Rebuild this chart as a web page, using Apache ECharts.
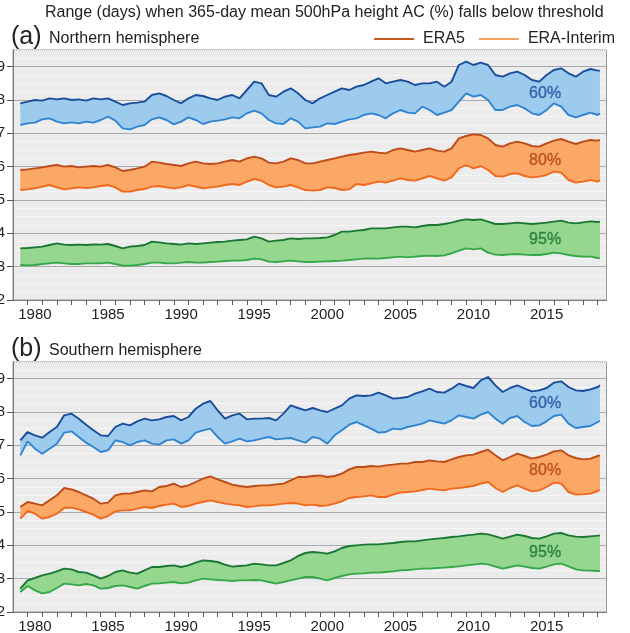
<!DOCTYPE html>
<html><head><meta charset="utf-8">
<script src="https://cdn.jsdelivr.net/npm/echarts@6/dist/echarts.min.js"></script>
<style>html,body{margin:0;padding:0;background:#fff}#c{width:630px;height:633px}</style>
</head><body><div id="c"></div><script>
// ---- time axis of the series (half-year steps, last point late 2018) ----
const years = [];
for (let y = 1979; y <= 2018.5; y += 0.5) years.push(y);
years.push(2018.65);

const yearLabels = [1980, 1985, 1990, 1995, 2000, 2005, 2010, 2015];
const yearTicks = [];
for (let y = 1979.5; y <= 2018.5; y += 1) yearTicks.push(y);
const yLabels = [2, 3, 4, 5, 6, 7, 8, 9];

// ---- Northern hemisphere ----
const nh60_era5 = [
  7.90,7.95,8.00,7.98,8.05,8.02,8.05,8.00,8.02,7.98,8.05,8.02,8.05,7.95,7.85,7.90,7.92,7.95,8.15,8.20,
  8.12,8.00,7.90,8.05,8.15,8.12,8.05,8.00,8.10,8.15,8.05,8.30,8.55,8.50,8.15,8.10,8.25,8.35,8.20,8.00,
  7.90,8.05,8.15,8.25,8.35,8.30,8.40,8.45,8.55,8.65,8.50,8.55,8.60,8.55,8.45,8.50,8.50,8.55,8.40,8.55,
  9.05,9.15,9.05,9.12,9.05,8.75,8.70,8.80,8.85,8.75,8.60,8.55,8.75,8.90,8.95,8.80,8.70,8.85,8.93,8.88,
  8.88];
const nh60_erai = [
  7.25,7.30,7.32,7.42,7.45,7.35,7.30,7.33,7.30,7.35,7.32,7.40,7.50,7.38,7.15,7.12,7.20,7.25,7.42,7.48,
  7.40,7.27,7.35,7.48,7.40,7.28,7.35,7.38,7.42,7.48,7.45,7.60,7.68,7.60,7.40,7.30,7.28,7.45,7.35,7.15,
  7.18,7.20,7.30,7.28,7.35,7.42,7.45,7.55,7.60,7.55,7.45,7.60,7.70,7.62,7.60,7.80,7.70,7.55,7.62,7.70,
  7.95,8.20,8.10,8.15,8.00,7.70,7.70,7.80,7.85,7.75,7.60,7.55,7.70,7.90,7.80,7.55,7.48,7.55,7.62,7.55,
  7.60];
const nh80_era5 = [
  5.90,5.92,5.95,5.98,6.02,6.05,6.00,6.02,5.98,6.00,6.02,6.00,6.05,5.98,5.87,5.90,5.95,6.00,6.15,6.12,
  6.08,6.05,6.02,6.10,6.15,6.10,6.08,6.10,6.15,6.20,6.15,6.25,6.30,6.25,6.12,6.10,6.15,6.25,6.20,6.10,
  6.10,6.15,6.20,6.25,6.30,6.35,6.38,6.42,6.45,6.42,6.40,6.50,6.55,6.50,6.45,6.50,6.55,6.48,6.45,6.55,
  6.85,6.92,6.97,6.95,6.85,6.65,6.60,6.70,6.75,6.70,6.62,6.60,6.70,6.78,6.83,6.75,6.68,6.75,6.80,6.78,
  6.80];
const nh80_erai = [
  5.30,5.32,5.35,5.40,5.45,5.38,5.32,5.35,5.38,5.36,5.38,5.42,5.45,5.38,5.25,5.25,5.30,5.33,5.40,5.42,
  5.38,5.35,5.38,5.45,5.40,5.35,5.38,5.40,5.45,5.48,5.45,5.55,5.63,5.58,5.45,5.38,5.40,5.45,5.38,5.30,
  5.28,5.30,5.38,5.36,5.30,5.32,5.48,5.45,5.50,5.55,5.52,5.58,5.65,5.60,5.58,5.65,5.72,5.65,5.58,5.68,
  5.95,6.05,5.95,6.02,5.90,5.72,5.70,5.78,5.80,5.72,5.68,5.70,5.75,5.85,5.82,5.60,5.52,5.55,5.60,5.55,
  5.60];
const nh95_era5 = [
  3.55,3.56,3.58,3.60,3.65,3.70,3.66,3.65,3.66,3.65,3.67,3.66,3.68,3.62,3.55,3.60,3.62,3.65,3.75,3.73,
  3.70,3.68,3.66,3.70,3.68,3.70,3.72,3.74,3.75,3.78,3.80,3.82,3.90,3.85,3.75,3.78,3.80,3.85,3.83,3.85,
  3.85,3.86,3.88,3.95,4.05,4.05,4.08,4.10,4.15,4.15,4.15,4.18,4.20,4.20,4.18,4.22,4.25,4.25,4.28,4.32,
  4.38,4.42,4.40,4.42,4.35,4.28,4.28,4.30,4.32,4.30,4.28,4.30,4.32,4.35,4.38,4.32,4.30,4.33,4.36,4.34,
  4.35];
const nh95_erai = [
  3.05,3.04,3.05,3.08,3.10,3.12,3.10,3.08,3.08,3.10,3.10,3.10,3.12,3.08,3.03,3.03,3.05,3.08,3.12,3.12,
  3.10,3.10,3.12,3.14,3.12,3.12,3.14,3.15,3.17,3.18,3.18,3.20,3.24,3.22,3.15,3.14,3.16,3.18,3.16,3.14,
  3.14,3.15,3.16,3.17,3.18,3.20,3.22,3.24,3.25,3.24,3.26,3.28,3.30,3.28,3.30,3.32,3.33,3.32,3.34,3.40,
  3.48,3.55,3.52,3.55,3.42,3.36,3.35,3.37,3.38,3.36,3.35,3.35,3.38,3.42,3.40,3.35,3.32,3.30,3.30,3.26,
  3.25];

// ---- Southern hemisphere ----
const sh60_era5 = [
  7.15,7.40,7.30,7.23,7.40,7.55,7.90,7.95,7.80,7.62,7.45,7.30,7.28,7.55,7.65,7.60,7.72,7.80,7.75,7.78,
  7.85,7.88,7.75,7.85,8.10,8.25,8.33,8.05,7.80,7.90,7.95,7.78,7.80,7.80,7.82,7.75,7.95,8.20,8.12,8.05,
  8.12,8.05,8.00,8.10,8.20,8.40,8.50,8.48,8.50,8.58,8.50,8.40,8.42,8.45,8.55,8.62,8.70,8.60,8.58,8.70,
  8.85,8.78,8.72,8.95,9.05,8.80,8.60,8.72,8.80,8.70,8.62,8.65,8.72,8.88,8.92,8.75,8.65,8.63,8.68,8.75,
  8.80];
const sh60_erai = [
  6.70,7.12,6.90,6.75,6.90,7.05,7.38,7.42,7.25,7.08,6.95,6.80,6.85,7.15,7.10,7.00,7.10,7.15,7.05,7.02,
  7.15,7.18,7.05,7.15,7.38,7.45,7.50,7.25,7.05,7.12,7.20,7.12,7.15,7.20,7.25,7.18,7.20,7.22,7.15,7.08,
  7.25,7.20,7.05,7.30,7.45,7.62,7.70,7.60,7.50,7.38,7.40,7.50,7.48,7.55,7.60,7.65,7.75,7.70,7.65,7.75,
  7.90,7.85,7.80,7.92,8.00,7.80,7.65,7.82,7.88,7.70,7.58,7.60,7.72,7.88,7.92,7.65,7.52,7.55,7.58,7.70,
  7.73];
const sh80_era5 = [
  5.15,5.30,5.25,5.20,5.35,5.50,5.72,5.68,5.60,5.50,5.40,5.25,5.28,5.50,5.55,5.55,5.60,5.65,5.62,5.75,
  5.78,5.85,5.75,5.80,5.90,6.00,6.07,5.98,5.90,5.82,5.78,5.75,5.78,5.80,5.80,5.83,5.85,5.95,6.05,6.05,
  6.08,6.10,6.05,6.08,6.15,6.28,6.35,6.35,6.38,6.36,6.40,6.42,6.45,6.45,6.50,6.50,6.55,6.52,6.50,6.58,
  6.65,6.70,6.72,6.80,6.87,6.70,6.55,6.65,6.75,6.68,6.60,6.65,6.72,6.82,6.85,6.70,6.62,6.58,6.60,6.68,
  6.70];
const sh80_erai = [
  4.80,5.03,4.95,4.80,4.85,4.95,5.12,5.13,5.08,5.00,4.92,4.80,4.88,5.02,5.05,5.05,5.10,5.15,5.12,5.18,
  5.22,5.25,5.15,5.18,5.25,5.30,5.35,5.30,5.25,5.22,5.20,5.15,5.17,5.20,5.20,5.22,5.25,5.27,5.25,5.20,
  5.22,5.18,5.20,5.25,5.32,5.42,5.45,5.47,5.50,5.45,5.45,5.52,5.58,5.60,5.62,5.66,5.70,5.67,5.65,5.70,
  5.72,5.75,5.78,5.85,5.90,5.72,5.60,5.72,5.80,5.70,5.62,5.65,5.75,5.88,5.85,5.60,5.52,5.53,5.55,5.63,
  5.67];
const sh95_era5 = [
  2.70,2.95,3.02,3.10,3.15,3.22,3.30,3.28,3.20,3.18,3.10,3.00,3.08,3.20,3.25,3.18,3.15,3.25,3.35,3.35,
  3.38,3.40,3.35,3.40,3.48,3.55,3.53,3.50,3.42,3.36,3.38,3.40,3.45,3.43,3.40,3.40,3.47,3.55,3.68,3.77,
  3.80,3.78,3.75,3.82,3.92,3.98,4.00,4.02,4.03,4.03,4.05,4.07,4.10,4.12,4.12,4.15,4.18,4.20,4.22,4.25,
  4.27,4.30,4.32,4.35,4.33,4.27,4.20,4.26,4.32,4.28,4.22,4.20,4.27,4.35,4.37,4.30,4.26,4.25,4.27,4.29,
  4.30];
const sh95_erai = [
  2.60,2.78,2.65,2.56,2.60,2.72,2.85,2.83,2.80,2.84,2.80,2.70,2.72,2.78,2.80,2.75,2.70,2.78,2.85,2.86,
  2.88,2.90,2.86,2.88,2.95,3.00,2.98,2.96,2.95,2.93,2.95,2.95,2.96,2.95,2.90,2.85,2.90,2.95,3.00,3.05,
  3.05,3.00,2.95,3.02,3.08,3.13,3.15,3.16,3.18,3.18,3.20,3.22,3.25,3.26,3.28,3.30,3.30,3.32,3.33,3.35,
  3.37,3.40,3.42,3.45,3.43,3.36,3.30,3.35,3.40,3.36,3.32,3.30,3.36,3.43,3.45,3.37,3.28,3.25,3.24,3.23,
  3.23];

const thresholds = ['60%', '80%', '95%'];
const panelTitles = ['Northern hemisphere', 'Southern hemisphere'];
const panelTags = ['(a)', '(b)'];
const legendNames = ['ERA5', 'ERA-Interim'];

// ---- styling ----
const FONT = '"Liberation Sans", Arial, Helvetica, sans-serif';
const palette = {
  '60%': { up: '#1a4c9c', lo: '#2f84d2', fill: '#9dcbee', text: '#1f52a0' },
  '80%': { up: '#bd4a19', lo: '#f2681b', fill: '#fba766', text: '#b04418' },
  '95%': { up: '#1a7633', lo: '#34a848', fill: '#95d78e', text: '#187532' }
};
const legendColors = ['#c25a22', '#f4a262'];

const panels = [
  { top: 50, sets: [[nh60_era5, nh60_erai], [nh80_era5, nh80_erai], [nh95_era5, nh95_erai]],
    labelY: [8.18, 6.17, 3.82] },
  { top: 362, sets: [[sh60_era5, sh60_erai], [sh80_era5, sh80_erai], [sh95_era5, sh95_erai]],
    labelY: [8.25, 6.24, 3.79] }
];

const grids = [], xAxes = [], yAxes = [], series = [];
panels.forEach(function (p, gi) {
  grids.push({ left: 13, top: p.top, width: 593.5, height: 250, show: true,
    backgroundColor: '#ececec', borderColor: '#9a9a9a', borderWidth: 1,
    containLabel: false, outerBoundsMode: 'none' });
  xAxes.push({ type: 'value', gridIndex: gi, min: 1978.5, max: 2019.1,
    axisLine: { show: true, onZero: false, lineStyle: { color: '#7a7a7a' } },
    axisTick: { show: true, customValues: yearTicks, length: 5, lineStyle: { color: '#555' } },
    axisLabel: { customValues: yearLabels, fontSize: 15, color: '#222', margin: 7, fontFamily: FONT,
      formatter: function (v) { return String(v); } },
    splitLine: { show: false } });
  // minor dotted grid (quarter-day)
  yAxes.push({ type: 'value', gridIndex: gi, min: 2, max: 9.5, interval: 0.25,
    axisLine: { show: false }, axisTick: { show: false }, axisLabel: { show: false },
    splitLine: { show: true, lineStyle: { color: '#ffffff', type: 'dotted', width: 1 } } });
  // major axis
  yAxes.push({ type: 'value', gridIndex: gi, position: 'left', min: 2, max: 9.5, interval: 1,
    axisLine: { show: true, onZero: false, lineStyle: { color: '#7a7a7a' } },
    axisTick: { show: true, customValues: yLabels, length: 6, lineStyle: { color: '#555' } },
    axisLabel: { customValues: yLabels, fontSize: 15, color: '#222', margin: 8, fontFamily: FONT,
      formatter: function (v) { return String(v); } },
    splitLine: { show: true, lineStyle: { color: '#a9a9a9', width: 1 } } });

  const yi = gi * 2 + 1;
  p.sets.forEach(function (pair, k) {
    const col = palette[thresholds[k]];
    const up = pair[0], lo = pair[1];
    series.push({
      type: 'custom', xAxisIndex: gi, yAxisIndex: yi, silent: true, z: 1,
      data: [[2000, 5]],
      renderItem: function (params, api) {
        const pts = [];
        for (let i = 0; i < years.length; i++) pts.push(api.coord([years[i], up[i]]));
        for (let i = years.length - 1; i >= 0; i--) pts.push(api.coord([years[i], lo[i]]));
        return { type: 'polygon', shape: { points: pts }, style: { fill: col.fill } };
      }
    });
    series.push({ type: 'line', xAxisIndex: gi, yAxisIndex: yi, silent: true, z: 3,
      showSymbol: false, symbol: 'none',
      data: years.map(function (t, i) { return [t, lo[i]]; }),
      lineStyle: { color: col.lo, width: 1.9 }, itemStyle: { color: col.lo } });
    series.push({ type: 'line', xAxisIndex: gi, yAxisIndex: yi, silent: true, z: 3,
      showSymbol: false, symbol: 'none',
      data: years.map(function (t, i) { return [t, up[i]]; }),
      lineStyle: { color: col.up, width: 1.9 }, itemStyle: { color: col.up } });
    series.push({ type: 'scatter', xAxisIndex: gi, yAxisIndex: yi, silent: true, z: 5,
      symbolSize: 0, data: [[2014.9, p.labelY[k]]],
      label: { show: true, position: 'inside', formatter: thresholds[k],
        fontSize: 16, color: col.text, fontFamily: FONT,
        textBorderColor: col.text, textBorderWidth: 0.4 } });
  });
});

legendNames.forEach(function (n, i) {
  series.push({ name: n, type: 'line', data: [], xAxisIndex: 0, yAxisIndex: 1,
    itemStyle: { color: legendColors[i] }, lineStyle: { color: legendColors[i] } });
});

const titleStyle = { fontWeight: 'normal', color: '#222', fontFamily: FONT };
const option = {
  animation: false,
  backgroundColor: '#ffffff',
  title: [
    { text: 'Range (days) when 365-day mean 500hPa height AC (%) falls below threshold',
      left: 45, top: 5, padding: 0, textStyle: Object.assign({ fontSize: 16 }, titleStyle) },
    { text: panelTags[0], left: 11, top: 25, padding: 0, textStyle: Object.assign({ fontSize: 25 }, titleStyle) },
    { text: panelTitles[0], left: 49, top: 31, padding: 0, textStyle: Object.assign({ fontSize: 16 }, titleStyle) },
    { text: panelTags[1], left: 11, top: 337, padding: 0, textStyle: Object.assign({ fontSize: 25 }, titleStyle) },
    { text: panelTitles[1], left: 49, top: 343, padding: 0, textStyle: Object.assign({ fontSize: 16 }, titleStyle) }
  ],
  legend: { data: legendNames, top: 31, right: 15, padding: 0, icon: 'rect',
    itemWidth: 40, itemHeight: 2, itemGap: 14,
    textStyle: { fontSize: 16, color: '#222', fontFamily: FONT, padding: [0, 0, 0, 4] } },
  grid: grids, xAxis: xAxes, yAxis: yAxes, series: series
};
const chart = echarts.init(document.getElementById('c'), null, { renderer: 'canvas' });
chart.setOption(option);
</script></body></html>
